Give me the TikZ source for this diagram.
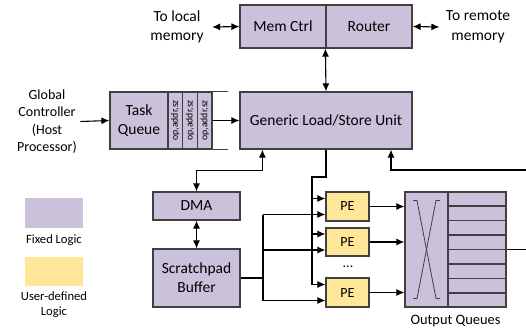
\documentclass[tikz,border=0pt]{standalone}
\usepackage{fontspec}
\setmainfont{Carlito}
\usetikzlibrary{arrows.meta, calc, positioning}
\definecolor{fixedfill}{HTML}{CCC1DA}
\definecolor{userfill}{HTML}{FFE699}
\definecolor{boxline}{HTML}{404040}

\begin{document}
\begin{tikzpicture}[x=1pt, y=-1pt]
    % Define styles
    \tikzstyle{fixedblock}=[draw=boxline, fill=fixedfill, line width=1.2pt, inner sep=0pt, align=center, font=\fontsize{15.5}{19}\selectfont]
    \tikzstyle{userblock}=[draw=boxline, fill=userfill, line width=1.2pt, inner sep=0pt, minimum width=43pt, font=\fontsize{14}{17}\selectfont]
    \tikzstyle{slotbox}=[fixedblock, minimum width=14.67pt, minimum height=57pt, font=\fontsize{9.8}{11}\selectfont]
    \tikzstyle{label_text}=[align=center, font=\fontsize{15.5}{19.5}\selectfont]
    \tikzstyle{legend_text}=[align=center, font=\fontsize{12.6}{15}\selectfont]
    \tikzstyle{wire}=[line width=1.1pt]
    \tikzstyle{sig}=[wire, -{Latex[length=8pt,width=7pt]}]
    \tikzstyle{bisig}=[wire, {Latex[length=8pt,width=7pt]}-{Latex[length=8pt,width=7pt]}]

    \useasboundingbox (0,0) rectangle (526,330);

    % --- 1. Memory side ---
    \node[fixedblock, minimum width=86pt, minimum height=43pt] (memctrl) at (283,26.5) {Mem Ctrl};
    \node[fixedblock, minimum width=86pt, minimum height=43pt] (router) at (369,26.5) {Router};
    \node[label_text] (localmem) at (177,27) {To local\\memory};
    \node[label_text] (remotemem) at (478,27) {To remote\\memory};

    \draw[bisig] ([xshift=5pt]localmem.east) -- (memctrl.west);
    \draw[bisig] (router.east) -- ([xshift=-3pt]remotemem.west);

    % --- 2. Load/store unit and task queue ---
    \node[fixedblock, minimum width=172pt, minimum height=57pt] (lsu) at (326,120.5) {Generic Load/Store Unit};
    \node[fixedblock, minimum width=58pt, minimum height=57pt] (taskq) at (139,120.5) {Task\\Queue};
    \foreach \i/\x in {1/175.33, 2/190, 3/204.67}
        \node[slotbox] (slot\i) at (\x,120.5) {\rotatebox{90}{op,addr,sz}};
    \draw[draw=boxline, line width=1.2pt] (slot3.north east) -- ++(15,0);
    \draw[draw=boxline, line width=1.2pt] (slot3.south east) -- ++(15,0);

    \node[label_text, font=\fontsize{14}{17.5}\selectfont] (host) at (47,121.5) {Global\\Controller\\(Host\\Processor)};

    \draw[sig] (host.east) -- (taskq.west);
    \draw[sig] (slot3.east) -- (lsu.west);
    \draw[bisig] (router.south west) -- (lsu.north);

    % --- 3. DMA and scratchpad ---
    \node[fixedblock, minimum width=87pt, minimum height=28pt] (dma) at (196.5,206) {DMA};
    \node[fixedblock, minimum width=87pt, minimum height=58pt] (spad) at (196.5,278) {Scratchpad\\Buffer};

    \draw[bisig] ([xshift=23pt]lsu.south west) -- ++(0,21) -| (dma.north);
    \draw[bisig] (dma.south) -- (spad.north);

    % --- 4. Processing elements ---
    \node[userblock, minimum height=29pt] (pe1) at (347.5,206.5) {PE};
    \node[userblock, minimum height=28pt] (pe2) at (347.5,242) {PE};
    \node[userblock, minimum height=29pt] (pe3) at (347.5,292.5) {PE};
    \node[font=\fontsize{14}{17}\selectfont, inner sep=0pt] (dots) at (348,267) {...};

    \coordinate (busx) at (312,177);
    \coordinate (spadx) at (263,278);

    \draw[wire, line width=1.6pt] (lsu.south) |- (busx) -- ([yshift=8pt]pe3.west -| busx);
    \draw[wire] (spad.east) -- (spadx);
    \draw[wire] ([yshift=-8pt]pe1.west -| spadx) -- ([yshift=-8pt]pe3.west -| spadx);
    \foreach \i in {1,2,3} {
        \draw[sig] ([yshift=8pt]pe\i.west -| busx) -- ([yshift=8pt]pe\i.west);
        \draw[sig] ([yshift=-8pt]pe\i.west -| spadx) -- ([yshift=-8pt]pe\i.west);
    }

    % --- 5. Crossbar and output queues ---
    \node[fixedblock, minimum width=43pt, minimum height=115pt] (xbar) at (426.5,249.5) {};
    \node[fixedblock, minimum width=58pt, minimum height=115pt] (outq) at (477,249.5) {};
    \foreach \k in {1,...,7}
        \draw[draw=boxline, line width=1.2pt] ($(outq.north west)!\k/8!(outq.south west)$) -- ($(outq.north east)!\k/8!(outq.south east)$);
    \draw[draw=boxline, line width=0.8pt] ($(xbar)+(-13.5,-49)$) -- ++(4,0) -- ($(xbar)+(9.5,49)$) -- ++(4,0);
    \draw[draw=boxline, line width=0.8pt] ($(xbar)+(13.5,-49)$) -- ++(-4,0) -- ($(xbar)+(-9.5,49)$) -- ++(-4,0);
    \node[font=\fontsize{14.4}{17}\selectfont] (outqlabel) at (455.5,321) {Output Queues};

    \foreach \i in {1,2,3}
        \draw[sig] (pe\i.east) -- (pe\i.east -| xbar.west);

    \coordinate (outedge) at (526,249.5);
    \coordinate (fbedge) at (526,170);
    \draw[wire] (outq.east) -- (outedge);
    \draw[sig] (fbedge) -| ([xshift=65pt]lsu.south);

    % --- 6. Legend ---
    \node[fill=fixedfill, minimum width=58pt, minimum height=30pt] (legfixed) at (54,213) {};
    \node[legend_text] (legfixedtext) at (54,240) {Fixed Logic};
    \node[fill=userfill, minimum width=58pt, minimum height=29pt] (leguser) at (54,271.5) {};
    \node[legend_text] (legusertext) at (54,304.5) {User-defined\\Logic};

\end{tikzpicture}
\end{document}
